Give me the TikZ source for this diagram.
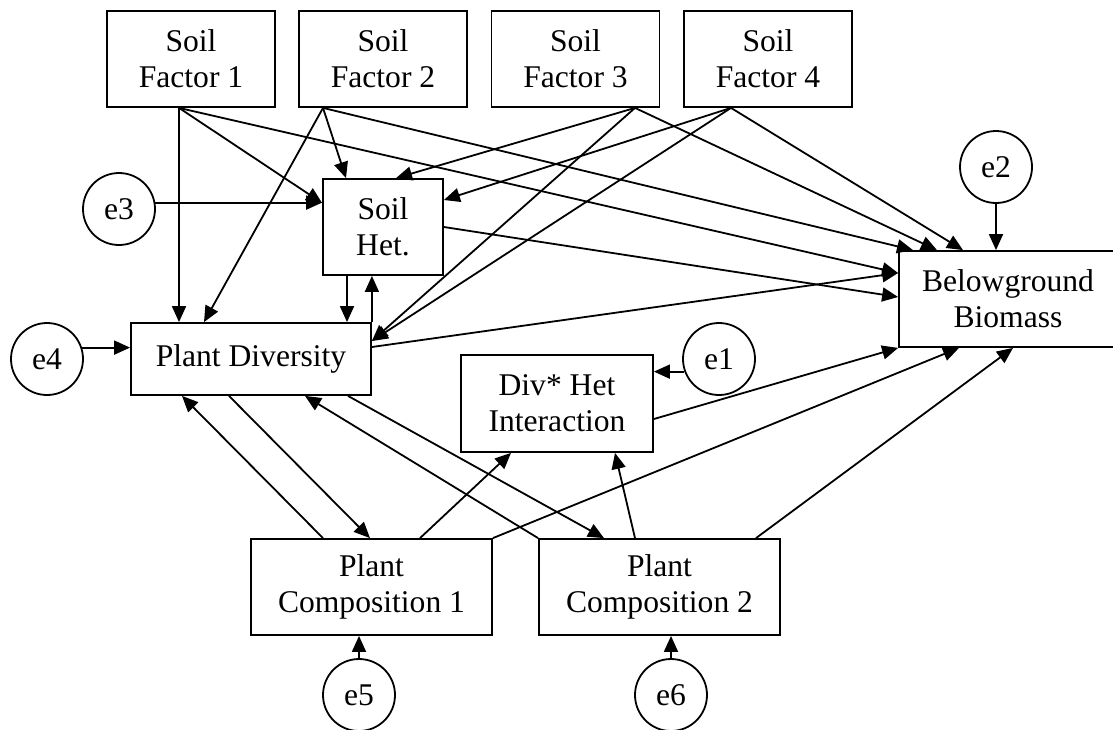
\documentclass[tikz,border=0pt]{standalone}
\usepackage{fontspec}
\setmainfont{Liberation Serif}
\usetikzlibrary{arrows.meta,calc}
\begin{document}
\begin{tikzpicture}[x=0.5pt,y=-0.5pt,line width=0.9pt,
  font=\fontsize{15.8}{18}\selectfont,
  var/.style={draw,rectangle,align=center,inner sep=0pt,minimum height=48pt},
  err/.style={draw,circle,inner sep=0pt,minimum size=36pt},
  arr/.style={-{Triangle[length=8pt,width=7pt]}}]
\useasboundingbox (0,0) rectangle (1113,729);
\foreach \i/\x in {1/191,2/383,3/575.5,4/768}
  \node[var,minimum width=84pt] (sf\i) at (\x,59) {Soil\\Factor \i};
\node[var,minimum width=60pt] (sh) at (383,227) {Soil\\Het.};
\node[var,minimum width=120pt,minimum height=36pt] (pd) at (251,359) {Plant Diversity};
\node[var,minimum width=96pt,minimum height=48.5pt] (dh) at (557,403.5) {Div* Het\\Interaction};
\node[var,minimum width=109pt] (bb) at (1008,299) {Belowground\\Biomass};
\node[var,minimum width=120.5pt] (pc1) at (371.5,587) {Plant\\Composition 1};
\node[var,minimum width=120.5pt] (pc2) at (659.5,587) {Plant\\Composition 2};
\node[err] (e1) at (719,359) {e1};
\node[err] (e2) at (996,167) {e2};
\node[err] (e3) at (119,209) {e3};
\node[err] (e4) at (47,359) {e4};
\node[err] (e5) at (359,695) {e5};
\node[err] (e6) at (671,695) {e6};
\coordinate (sf1b) at ($(sf1.south)+(-12,0)$);
\coordinate (sf2b) at ($(sf2.south)+(-60,0)$);
\coordinate (sf3b) at ($(sf3.south)+(59.5,0)$);
\coordinate (sf4b) at ($(sf4.south)+(-37,0)$);
\coordinate (pdR) at ($(pd.east)+(0,-18)$);
\coordinate (bbL) at ($(bb.west)+(0,-26)$);
\draw[arr] (sf1b) -- ($(pd.north)+(-72,0)$);
\draw[arr] (sf1b) -- ($(sh.west)+(0,-24)$);
\draw[arr] (sf1b) -- (bbL);
\draw[arr] (sf2b) -- ($(sh.north)+(-37,0)$);
\draw[arr] (sf2b) -- ($(pd.north)+(-47,0)$);
\draw[arr] (sf2b) -- ($(bb.north)+(-95,0)$);
\draw[arr] (sf3b) -- ($(sh.north)+(13,0)$);
\draw[arr] (sf3b) -- (pdR);
\draw[arr] (sf3b) -- ($(bb.north)+(-71,0)$);
\draw[arr] (sf4b) -- ($(sh.east)+(0,-27)$);
\draw[arr] (sf4b) -- (pdR);
\draw[arr] (sf4b) -- ($(bb.north)+(-45,0)$);
\draw[arr] (e3.10) -- (e3.10 -| sh.west);
\draw[arr] (e4.18) -- (e4.18 -| pd.west);
\draw[arr] (e1.200) -- (e1.200 -| dh.east);
\draw[arr] (e2.south) -- (e2.south |- bb.north);
\draw[arr] (e5.north) -- (e5.north |- pc1.south);
\draw[arr] (e6.north) -- (e6.north |- pc2.south);
\draw[arr] ($(sh.south)+(-36,0)$) -- ($(pd.north)+(96,0)$);
\draw[arr] (pd.north east) -- (pd.north east |- sh.south);
\draw[arr] (sh.east) -- ($(bb.west)+(0,-2)$);
\draw[arr] ($(pd.east)+(0,-12)$) -- (bbL);
\draw[arr] ($(dh.east)+(0,15.5)$) -- (bb.south west);
\draw[arr] (pc1.north east) -- ($(bb.south)+(-49,0)$);
\draw[arr] ($(pc2.north)+(96.5,0)$) -- ($(bb.south)+(5,0)$);
\draw[arr] ($(pc1.north)+(-48.5,0)$) -- ($(pd.south)+(-69,0)$);
\draw[arr] ($(pd.south)+(-22,0)$) -- ($(pc1.north)+(-1.5,0)$);
\draw[arr] (pc2.north west) -- ($(pd.south)+(54,0)$);
\draw[arr] ($(pd.south)+(97,0)$) -- ($(pc2.north)+(-55.5,0)$);
\draw[arr] ($(pc1.north)+(48.5,0)$) -- ($(dh.south)+(-46,0)$);
\draw[arr] ($(pc2.north)+(-24.5,0)$) -- ($(dh.south)+(58,0)$);
\end{tikzpicture}
\end{document}
